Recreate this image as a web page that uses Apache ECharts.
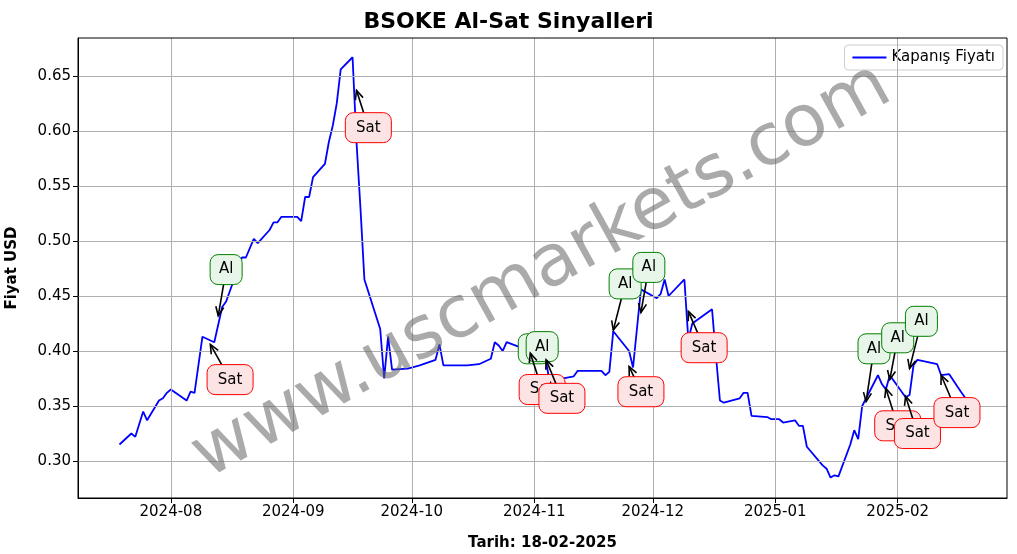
<!DOCTYPE html><html><head><meta charset="utf-8"><script src="https://cdn.jsdelivr.net/npm/echarts@6/dist/echarts.min.js"></script>
<style>html,body{margin:0;padding:0;background:#fff}#c{width:1017px;height:554px}</style></head><body><div id="c"></div><script>
const dates=[
'2024-07-19','2024-07-22','2024-07-23','2024-07-25','2024-07-26','2024-07-29','2024-07-30','2024-07-31','2024-08-01','2024-08-05',
'2024-08-06','2024-08-07','2024-08-09','2024-08-12','2024-08-14','2024-08-15','2024-08-19','2024-08-20','2024-08-22','2024-08-23',
'2024-08-26','2024-08-27','2024-08-28','2024-08-29','2024-09-02','2024-09-03','2024-09-04','2024-09-05','2024-09-06','2024-09-09',
'2024-09-10','2024-09-11','2024-09-12','2024-09-13','2024-09-16','2024-09-17','2024-09-18','2024-09-19','2024-09-23','2024-09-24',
'2024-09-25','2024-09-26','2024-09-30','2024-10-03','2024-10-07','2024-10-08','2024-10-09','2024-10-15','2024-10-18','2024-10-21',
'2024-10-22','2024-10-23','2024-10-24','2024-10-25','2024-10-28','2024-10-30','2024-11-01','2024-11-04','2024-11-05','2024-11-08',
'2024-11-11','2024-11-12','2024-11-18','2024-11-19','2024-11-20','2024-11-21','2024-11-25','2024-11-26','2024-11-28','2024-12-02',
'2024-12-03','2024-12-04','2024-12-05','2024-12-09','2024-12-10','2024-12-11','2024-12-16','2024-12-17','2024-12-18','2024-12-19',
'2024-12-23','2024-12-24','2024-12-25','2024-12-26','2024-12-30','2024-12-31','2025-01-02','2025-01-03','2025-01-06','2025-01-07',
'2025-01-08','2025-01-09','2025-01-13','2025-01-14','2025-01-15','2025-01-16','2025-01-17','2025-01-20','2025-01-21','2025-01-22',
'2025-01-23','2025-01-27','2025-01-28','2025-01-29','2025-01-30','2025-02-03','2025-02-04','2025-02-05','2025-02-06','2025-02-11',
'2025-02-12','2025-02-14','2025-02-17','2025-02-18'];
const prices=[
0.315,0.325,0.322,0.345,0.337,0.355,0.357,0.362,0.365,0.355,
0.363,0.362,0.413,0.408,0.440,0.445,0.485,0.485,0.502,0.498,
0.510,0.517,0.517,0.522,0.522,0.518,0.540,0.540,0.558,0.570,
0.590,0.605,0.625,0.656,0.667,0.590,0.530,0.465,0.420,0.375,
0.413,0.383,0.384,0.387,0.392,0.406,0.387,0.387,0.388,0.393,
0.408,0.405,0.400,0.408,0.404,0.400,0.400,0.390,0.370,0.375,
0.377,0.382,0.382,0.378,0.381,0.418,0.400,0.385,0.456,0.448,
0.452,0.465,0.450,0.465,0.410,0.425,0.438,0.395,0.355,0.353,
0.357,0.362,0.362,0.341,0.340,0.338,0.338,0.335,0.337,0.332,
0.332,0.313,0.296,0.293,0.285,0.287,0.286,0.315,0.328,0.320,
0.350,0.378,0.370,0.365,0.378,0.358,0.360,0.387,0.392,0.388,
0.378,0.379,0.363,0.358];
// signals: type, point date, point value, label date, label value
const sigType=['Al','Sat','Sat','Al','Al','Sat','Sat','Al','Sat','Al','Sat','Al','Sat','Al','Sat','Al','Sat'];
const sigDate=['2024-08-13','2024-08-11','2024-09-17','2024-10-30','2024-11-01','2024-10-31','2024-11-04','2024-11-21','2024-11-25','2024-11-28','2024-12-10','2025-01-24','2025-01-29','2025-01-30','2025-02-03','2025-02-04','2025-02-12'];
const sigVal=[0.432,0.406,0.637,0.400,0.400,0.398,0.392,0.419,0.386,0.435,0.436,0.354,0.366,0.374,0.359,0.384,0.378];
const sigLabDate=['2024-08-15','2024-08-16','2024-09-20','2024-11-01','2024-11-03','2024-11-03','2024-11-08','2024-11-24','2024-11-28','2024-11-30','2024-12-14','2025-01-26','2025-02-01','2025-02-01','2025-02-06','2025-02-07','2025-02-16'];
const sigLabVal=[0.474,0.374,0.603,0.402,0.404,0.365,0.357,0.461,0.363,0.476,0.403,0.402,0.332,0.412,0.325,0.427,0.344];
const xTicks=['2024-08-01','2024-09-01','2024-10-01','2024-11-01','2024-12-01','2025-01-01','2025-02-01'];
const yTicks=[0.30,0.35,0.40,0.45,0.50,0.55,0.60,0.65];
const ts=s=>new Date(s+'T00:00:00Z').getTime();
const chart=echarts.init(document.getElementById('c'));
const F='DejaVu Sans';
chart.setOption({
animation:false,
title:{text:'BSOKE Al-Sat Sinyalleri',left:'center',top:6,textStyle:{fontFamily:F,fontSize:22,fontWeight:'bold',color:'#000'}},
legend:{right:14,top:45,itemWidth:34,itemHeight:2,itemGap:8,textStyle:{fontFamily:F,fontSize:15,color:'#000'},borderColor:'#ccc',borderWidth:1,borderRadius:4,padding:[5,8],data:[{name:'Kapanış Fiyatı',icon:'rect'}]},
grid:{left:78,right:10,top:38,bottom:56,outerBoundsMode:'none',containLabel:false},
xAxis:{type:'value',min:ts('2024-07-08')+12*3600e3,max:ts('2025-02-28')+16*3600e3,
 name:'Tarih: 18-02-2025',nameLocation:'middle',nameGap:38,nameTextStyle:{fontFamily:F,fontSize:15,fontWeight:'bold',color:'#000'},
 axisLine:{lineStyle:{color:'#000'}},axisTick:{customValues:xTicks.map(ts),length:5,lineStyle:{color:'#000'}},
 axisLabel:{customValues:xTicks.map(ts),margin:7,formatter:v=>{const d=new Date(v);return d.getUTCFullYear()+'-'+String(d.getUTCMonth()+1).padStart(2,'0');},fontFamily:F,fontSize:15,color:'#000'},
 splitLine:{show:false}},
yAxis:{type:'value',min:0.2664,max:0.6845,
 name:'Fiyat USD',nameLocation:'middle',nameGap:58,nameTextStyle:{fontFamily:F,fontSize:15,fontWeight:'bold',color:'#000'},
 axisLine:{show:true,lineStyle:{color:'#000'}},axisTick:{show:true,length:5,lineStyle:{color:'#000'},customValues:yTicks},
 axisLabel:{customValues:yTicks,margin:7,formatter:v=>v.toFixed(2),fontFamily:F,fontSize:15,color:'#000'},
 splitLine:{show:false}},
graphic:[
 {type:'rect',shape:{x:78,y:38,width:929,height:460},style:{fill:null,stroke:'#000',lineWidth:1},z:50,silent:true},
 {type:'text',x:542,y:272,rotation:Math.PI/180*29,z:100,
 style:{text:'www.uscmarkets.com',align:'center',verticalAlign:'middle',fontFamily:F,fontSize:72,fill:'rgba(100,100,100,0.55)'}}],
series:[
{name:'Kapanış Fiyatı',type:'line',data:dates.map((d,i)=>[ts(d),prices[i]]),showSymbol:false,lineStyle:{color:'#0000ff',width:1.8},itemStyle:{color:'#0000ff'},
 markLine:{silent:true,symbol:'none',label:{show:false},lineStyle:{color:'#b0b0b0',type:'solid',width:1},
  data:xTicks.map(d=>({xAxis:ts(d)})).concat(yTicks.map(v=>({yAxis:v})))}},
{type:'custom',z:10,data:sigType.map((t,i)=>[ts(sigDate[i]),sigVal[i],ts(sigLabDate[i]),sigLabVal[i],i]),
 renderItem:(params,api)=>{
  const i=api.value(4),t=sigType[i];
  const p=api.coord([api.value(0),api.value(1)]),l=api.coord([api.value(2),api.value(3)]);
  const al=t==='Al';
  const w=al?32:46,h=30;
  const dx=p[0]-l[0],dy=p[1]-l[1],len=Math.hypot(dx,dy),ux=dx/len,uy=dy/len;
  const start=[l[0]+ux*14,l[1]+uy*14];
  const ah=9,aw=4;
  const b=[p[0]-ux*ah,p[1]-uy*ah];
  return {type:'group',children:[
   {type:'line',shape:{x1:start[0],y1:start[1],x2:p[0],y2:p[1]},style:{stroke:'#000',lineWidth:1.6}},
   {type:'polyline',shape:{points:[[b[0]-uy*aw,b[1]+ux*aw],[p[0],p[1]],[b[0]+uy*aw,b[1]-ux*aw]]},style:{stroke:'#000',lineWidth:1.6,fill:null}},
   {type:'rect',shape:{x:l[0]-w/2,y:l[1]-h/2,width:w,height:h,r:8},style:{fill:al?'#e8f5e9':'#fde4e4',stroke:al?'#008000':'#ff0000',lineWidth:1}},
   {type:'text',style:{text:t,x:l[0],y:l[1],align:'center',verticalAlign:'middle',fontFamily:F,fontSize:15,fill:'#000'}}
  ]};
 }}
]});
</script></body></html>
